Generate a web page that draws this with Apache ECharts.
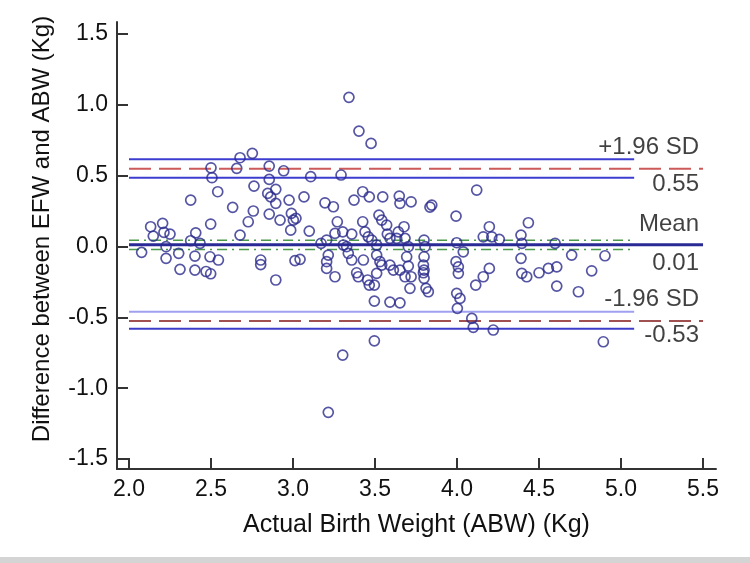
<!DOCTYPE html>
<html>
<head>
<meta charset="utf-8">
<script src="https://cdn.jsdelivr.net/npm/echarts@6/dist/echarts.min.js"></script>
<style>html,body{margin:0;padding:0;background:#fff;}#c{width:750px;height:563px;}</style>
</head>
<body>
<div id="c"></div>
<script>
// ---- data ----
const xTicks = [2.0, 2.5, 3.0, 3.5, 4.0, 4.5, 5.0, 5.5];
const yTicks = [-1.5, -1.0, -0.5, 0.0, 0.5, 1.0, 1.5];

const abw = [
2.752,2.677,2.500,2.506,2.657,2.855,2.943,2.855,2.762,2.541,2.376,2.895,2.846,2.864,2.895,2.976,2.632,2.758,2.855,2.727,
2.921,2.990,3.002,2.986,2.498,2.132,2.205,2.148,2.213,2.250,2.407,2.376,2.433,2.677,2.077,2.226,2.303,2.226,2.402,2.494,
2.545,2.311,2.402,2.470,2.498,2.803,2.803,2.895,3.012,
3.341,3.402,3.476,3.108,3.293,4.120,3.067,3.195,3.246,3.425,3.465,3.372,3.547,3.648,3.652,3.720,3.846,3.835,3.994,3.018,
3.099,3.270,3.256,3.425,3.524,3.541,3.571,3.677,3.642,3.303,3.358,3.439,3.459,3.575,3.591,3.632,3.683,3.171,3.205,3.307,
3.327,3.480,3.510,3.799,3.805,3.998,4.038,3.215,3.205,3.337,3.358,3.429,3.510,3.530,3.541,3.591,3.612,3.703,3.693,3.799,
3.795,3.043,3.388,3.398,3.510,3.652,3.683,3.795,3.994,4.008,4.008,3.256,
3.205,3.455,3.465,3.496,3.496,3.591,3.652,3.703,3.720,3.799,3.799,3.713,3.811,3.825,4.114,3.998,4.018,4.002,4.090,4.099,
3.496,3.303,3.215,
4.435,4.197,4.160,4.212,4.258,4.390,4.395,4.598,4.390,4.699,4.902,4.197,4.160,4.395,4.425,4.500,4.557,4.608,4.821,4.608,
4.740,4.221,4.892
];
const diff = [
0.658,0.627,0.556,0.486,0.552,0.568,0.535,0.474,0.427,0.387,0.328,0.404,0.375,0.351,0.305,0.328,0.277,0.251,0.229,0.175,
0.187,0.234,0.187,0.116,0.159,0.140,0.164,0.074,0.100,0.088,0.097,0.041,0.023,0.081,-0.041,-0.001,-0.048,-0.083,-0.067,-0.072,
-0.095,-0.161,-0.166,-0.176,-0.192,-0.095,-0.127,-0.236,-0.099,
1.053,0.815,0.728,0.493,0.505,0.399,0.351,0.309,0.281,0.387,0.351,0.328,0.351,0.356,0.305,0.316,0.293,0.279,0.215,0.199,
0.109,0.175,0.093,0.175,0.222,0.187,0.152,0.140,0.104,0.104,0.088,0.104,0.069,0.088,0.058,0.058,0.058,0.023,0.046,0.011,
-0.001,0.046,0.011,0.046,-0.001,0.027,-0.037,-0.060,-0.107,-0.048,-0.095,-0.095,-0.060,-0.107,-0.131,-0.131,-0.166,-0.001,-0.072,-0.072,
-0.131,-0.090,-0.185,-0.213,-0.189,-0.166,-0.213,-0.185,-0.107,-0.143,-0.189,-0.213,
-0.154,-0.236,-0.272,-0.272,-0.385,-0.392,-0.397,-0.138,-0.213,-0.166,-0.224,-0.295,-0.295,-0.319,-0.272,-0.330,-0.366,-0.436,-0.507,-0.570,
-0.665,-0.766,-1.170,
0.168,0.140,0.069,0.069,0.051,0.081,0.023,0.023,-0.083,-0.060,-0.065,-0.154,-0.213,-0.189,-0.213,-0.185,-0.154,-0.143,-0.171,-0.279,
-0.319,-0.589,-0.672
];

// reference lines
const lineX0 = 2.0;          // start of all reference lines
const lineXLong = 5.5;       // end of mean / limits of agreement
const lineXShort = 5.08;     // end of confidence-interval lines
const meanValue = 0.013;
const meanCI = [0.045, -0.02];
const upperLoA = 0.55;
const upperCI = [0.617, 0.486];
const lowerLoA = -0.525;
const lowerCI = [-0.46, -0.58];

const labelTexts = ['+1.96 SD', '0.55', 'Mean', '0.01', '-1.96 SD', '-0.53'];

// ---- chart ----
const points = abw.map((x, i) => [x, diff[i]]);
const seg = (y, x1) => [[lineX0, y], [x1, y]];

function lineSeries(data, color, width, type) {
  return {
    type: 'line', data: data, symbol: 'none', silent: true, z: 2,
    lineStyle: { color: color, width: width, type: type || 'solid' }
  };
}

const chart = echarts.init(document.getElementById('c'), null, { renderer: 'canvas' });
const txtColor = '#111';
const fontFam = '"Liberation Sans", Arial, sans-serif';

const labelPts = [
  { v: [lineXLong, upperLoA], t: labelTexts[0], dy: -21 },
  { v: [lineXLong, upperLoA], t: labelTexts[1], dy: 16 },
  { v: [lineXLong, meanValue], t: labelTexts[2], dy: -20 },
  { v: [lineXLong, meanValue], t: labelTexts[3], dy: 19 },
  { v: [lineXLong, lowerLoA], t: labelTexts[4], dy: -22 },
  { v: [lineXLong, lowerLoA], t: labelTexts[5], dy: 14 }
];

chart.setOption({
  animation: false,
  backgroundColor: '#fff',
  grid: { left: 117, right: 34, top: 22, bottom: 94, containLabel: false },
  xAxis: {
    type: 'value', min: 1.9268, max: 5.579,
    name: 'Actual Birth Weight (ABW) (Kg)', nameLocation: 'middle', nameGap: 44,
    nameTextStyle: { fontSize: 25, color: txtColor, fontFamily: fontFam },
    axisLine: { show: true, onZero: false, lineStyle: { color: '#333', width: 2 } },
    axisTick: { show: true, inside: true, length: 11, customValues: xTicks, lineStyle: { color: '#333', width: 2 } },
    axisLabel: { show: true, customValues: xTicks, formatter: v => v.toFixed(1), fontSize: 23, margin: 9, color: txtColor, fontFamily: fontFam },
    splitLine: { show: false }
  },
  yAxis: {
    type: 'value', min: -1.57, max: 1.585,
    axisLine: { show: true, onZero: false, lineStyle: { color: '#333', width: 2 } },
    axisTick: { show: true, inside: true, length: 11, customValues: yTicks, lineStyle: { color: '#333', width: 2 } },
    axisLabel: { show: true, customValues: yTicks, formatter: v => v.toFixed(1), fontSize: 23, margin: 9, color: txtColor, fontFamily: fontFam },
    splitLine: { show: false }
  },
  graphic: [{
    type: 'text', x: 42, y: 229, rotation: Math.PI / 2,
    style: { text: 'Difference between EFW and ABW (Kg)', fontSize: 24, fill: txtColor, fontFamily: fontFam,
             align: 'center', verticalAlign: 'middle' }
  }, {
    type: 'rect', left: 0, bottom: 0, shape: { width: 750, height: 6 },
    style: { fill: '#d4d4d4' }, silent: true
  }],
  series: [
    lineSeries(seg(upperCI[0], lineXShort), '#3c3cd0', 2),
    lineSeries(seg(upperLoA, lineXLong), '#cc5a5a', 2, [22, 8]),
    lineSeries(seg(upperCI[1], lineXShort), '#3c3cd0', 2),
    lineSeries(seg(meanCI[0], lineXShort), '#4a9a4a', 1.5, [10, 5, 2, 5]),
    lineSeries(seg(meanValue, lineXLong), '#2a2a96', 3),
    lineSeries(seg(meanCI[1], lineXShort), '#4a9a4a', 1.5, [10, 5, 2, 5]),
    lineSeries(seg(lowerCI[0], lineXShort), '#a0a0f0', 2),
    lineSeries(seg(lowerLoA, lineXLong), '#a05050', 2, [22, 8]),
    lineSeries(seg(lowerCI[1], lineXShort), '#3c3cc8', 2),
    {
      type: 'scatter', data: points, symbol: 'circle', symbolSize: 10, z: 5, silent: true,
      itemStyle: { color: 'rgba(255,255,255,0)', borderColor: '#2b2b8c', borderWidth: 1.7 }
    },
    {
      type: 'scatter', symbolSize: 0, silent: true, z: 6,
      data: labelPts.map(p => ({
        value: p.v,
        label: { show: true, position: 'left', distance: 0, offset: [-4, p.dy], formatter: p.t,
                 fontSize: 24, color: txtColor, fontFamily: fontFam }
      }))
    }
  ]
});
</script>
</body>
</html>
